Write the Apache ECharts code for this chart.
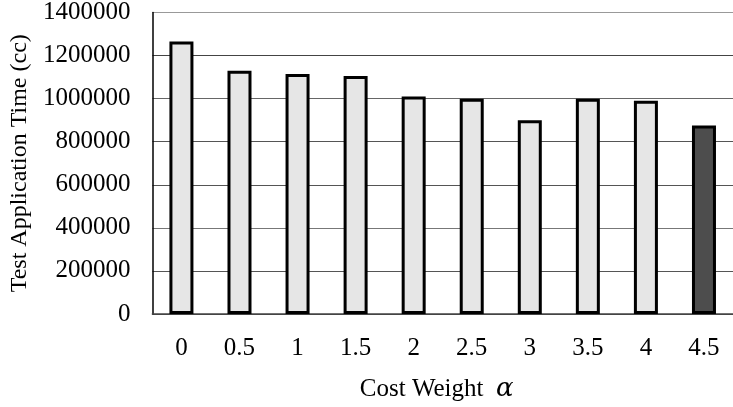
<!DOCTYPE html>
<html>
<head>
<meta charset="utf-8">
<script src="https://cdn.jsdelivr.net/npm/echarts@6/dist/echarts.min.js"></script>
<style>
  html, body { margin: 0; padding: 0; background: #fff; }
  #chart { width: 733px; height: 407px; }
</style>
</head>
<body>
<div id="chart"></div>
<script>
// Cost weight settings on the x axis
const costWeights = ['0', '0.5', '1', '1.5', '2', '2.5', '3', '3.5', '4', '4.5'];
// Test application time in clock cycles for each weight
const testTimes = [1265000, 1130000, 1115000, 1105000, 1010000, 1000000, 900000, 1000000, 990000, 875000];
// The chosen setting is drawn in a darker fill
const chosenWeight = '4.5';

const serif = '"Liberation Serif", "Times New Roman", serif';
const chart = echarts.init(document.getElementById('chart'), null, { renderer: 'canvas' });

chart.setOption({
  animation: false,
  backgroundColor: '#ffffff',
  textStyle: { fontFamily: serif, color: '#000' },
  // the plot runs a little past the right edge of the canvas
  grid: { left: 149, top: 10, width: 592, height: 304, containLabel: false },
  xAxis: {
    type: 'category',
    data: costWeights,
    name: 'Cost Weight  {a|α}',
    nameLocation: 'middle',
    nameGap: 62,
    nameTextStyle: {
      fontFamily: serif, fontSize: 25, color: '#000',
      padding: [0, 12, 0, 0],
      rich: { a: { fontFamily: '"DejaVu Serif", serif', fontStyle: 'italic', fontSize: 26, color: '#000' } }
    },
    axisLine: { lineStyle: { color: '#444', width: 1.5 } },
    axisTick: { show: false },
    axisLabel: { fontFamily: serif, fontSize: 25, color: '#000', margin: 22 }
  },
  yAxis: {
    type: 'value',
    min: 0,
    max: 1400000,
    interval: 200000,
    name: 'Test Application Time (cc)',
    nameLocation: 'middle',
    nameGap: 116,
    nameTextStyle: { fontFamily: serif, fontSize: 24, color: '#000' },
    axisLine: { show: true, lineStyle: { color: '#000', width: 1.5 } },
    axisTick: { show: false },
    axisLabel: {
      fontFamily: serif, fontSize: 25, color: '#000', margin: 22,
      padding: [9, 0, 0, 0],
      formatter: v => String(v)
    },
    splitLine: {
      show: true,
      lineStyle: { color: ['#444', '#555', '#777', '#555', '#555', '#666', '#444', '#999'], width: 1.2 }
    }
  },
  series: [{
    type: 'bar',
    data: testTimes,
    barWidth: 24,
    itemStyle: {
      color: p => (costWeights[p.dataIndex] === chosenWeight ? '#4d4d4d' : '#e6e6e6'),
      borderColor: '#000',
      borderWidth: 3
    }
  }]
});
</script>
</body>
</html>
